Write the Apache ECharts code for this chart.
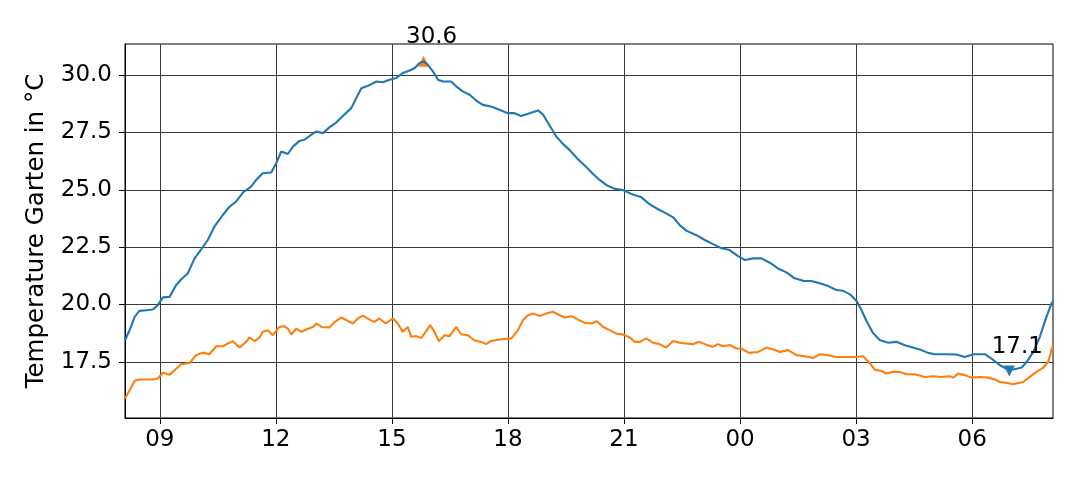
<!DOCTYPE html>
<html>
<head>
<meta charset="utf-8">
<script src="https://cdn.jsdelivr.net/npm/echarts@6/dist/echarts.min.js"></script>
<style>html,body{margin:0;padding:0;background:#fff}#c{width:1080px;height:480px}</style>
</head>
<body>
<div id="c"></div>
<script>
// time in hours since midnight of first day (24+ = next day)
const blueTimes = [8.10,8.22,8.35,8.47,8.65,8.82,8.95,9.08,9.25,9.42,9.55,9.72,9.90,10.07,10.24,10.41,10.63,10.80,10.97,11.15,11.36,11.49,11.66,11.88,12.01,12.14,12.31,12.44,12.61,12.74,12.91,13.04,13.22,13.39,13.56,13.73,13.95,14.08,14.21,14.38,14.60,14.77,14.94,15.11,15.28,15.46,15.59,15.71,15.82,15.93,16.06,16.19,16.32,16.53,16.66,16.83,17.01,17.18,17.35,17.56,17.78,18.00,18.17,18.34,18.56,18.78,18.91,19.08,19.25,19.42,19.59,19.81,20.03,20.20,20.37,20.54,20.76,20.97,21.19,21.45,21.66,21.88,22.09,22.27,22.44,22.61,22.87,23.09,23.30,23.52,23.73,23.95,24.12,24.34,24.55,24.77,24.98,25.20,25.41,25.63,25.84,26.06,26.28,26.49,26.66,26.84,27.01,27.14,27.27,27.44,27.61,27.83,28.04,28.26,28.47,28.69,28.86,29.03,29.34,29.59,29.81,30.03,30.33,30.50,30.72,30.96,31.15,31.28,31.41,31.58,31.75,31.92,32.05,32.09];
const blueValues = [18.44,18.88,19.46,19.72,19.75,19.78,19.97,20.31,20.33,20.84,21.09,21.35,22.01,22.40,22.81,23.39,23.90,24.26,24.48,24.88,25.14,25.43,25.72,25.75,26.16,26.67,26.56,26.88,27.13,27.18,27.39,27.54,27.47,27.73,27.93,28.22,28.56,29.00,29.43,29.53,29.72,29.69,29.80,29.87,30.09,30.20,30.31,30.52,30.60,30.45,30.16,29.80,29.72,29.72,29.51,29.29,29.14,28.89,28.70,28.63,28.49,28.34,28.34,28.22,28.34,28.46,28.27,27.79,27.32,27.00,26.74,26.33,25.98,25.69,25.43,25.21,25.04,24.99,24.82,24.67,24.37,24.15,23.97,23.80,23.46,23.22,23.02,22.81,22.63,22.45,22.37,22.11,21.94,22.01,22.01,21.82,21.57,21.40,21.14,21.03,21.02,20.92,20.80,20.63,20.60,20.44,20.16,19.75,19.28,18.75,18.45,18.33,18.37,18.22,18.12,18.01,17.89,17.83,17.83,17.82,17.71,17.83,17.83,17.64,17.35,17.13,17.20,17.25,17.50,17.93,18.59,19.46,20.04,20.14];

const orangeTimes = [8.10,8.22,8.35,8.47,8.65,8.82,8.95,9.08,9.25,9.38,9.55,9.77,9.94,10.11,10.28,10.46,10.63,10.76,10.89,11.06,11.23,11.32,11.45,11.58,11.66,11.79,11.92,12.09,12.22,12.31,12.40,12.53,12.66,12.78,12.96,13.05,13.18,13.39,13.52,13.69,13.82,13.99,14.12,14.25,14.42,14.55,14.68,14.84,15.03,15.15,15.28,15.41,15.50,15.63,15.76,15.84,15.99,16.10,16.21,16.36,16.49,16.66,16.79,16.96,17.13,17.35,17.44,17.56,17.78,18.09,18.26,18.39,18.52,18.65,18.82,18.99,19.16,19.34,19.47,19.64,19.81,19.98,20.16,20.30,20.46,20.63,20.80,20.97,21.15,21.28,21.41,21.58,21.75,21.92,22.09,22.27,22.44,22.61,22.78,22.94,23.09,23.30,23.43,23.56,23.73,23.91,24.03,24.23,24.47,24.68,24.90,25.03,25.24,25.46,25.67,25.89,26.06,26.28,26.49,26.71,26.97,27.18,27.35,27.48,27.66,27.78,27.96,28.13,28.30,28.52,28.78,28.99,29.21,29.42,29.51,29.64,29.81,29.98,30.20,30.41,30.59,30.72,30.89,31.06,31.32,31.49,31.66,31.84,31.97,32.05,32.09];
const orangeValues = [15.90,16.26,16.67,16.73,16.73,16.73,16.77,17.02,16.94,17.13,17.39,17.45,17.79,17.90,17.83,18.18,18.18,18.30,18.40,18.12,18.37,18.56,18.40,18.56,18.81,18.88,18.66,19.02,19.05,18.95,18.69,18.95,18.81,18.91,19.02,19.17,19.02,19.00,19.24,19.43,19.32,19.17,19.39,19.51,19.34,19.24,19.39,19.17,19.39,19.17,18.81,19.02,18.59,18.62,18.54,18.73,19.10,18.81,18.40,18.66,18.62,19.02,18.70,18.66,18.44,18.34,18.27,18.41,18.47,18.52,18.88,19.32,19.53,19.61,19.49,19.61,19.68,19.53,19.43,19.49,19.34,19.20,19.17,19.27,19.02,18.88,18.73,18.69,18.56,18.37,18.37,18.52,18.33,18.27,18.12,18.41,18.33,18.30,18.27,18.37,18.27,18.15,18.27,18.18,18.23,18.08,18.08,17.89,17.93,18.12,18.01,17.93,18.01,17.79,17.74,17.67,17.83,17.79,17.71,17.71,17.71,17.74,17.45,17.16,17.10,16.99,17.06,17.06,16.96,16.96,16.84,16.87,16.84,16.87,16.81,16.99,16.92,16.81,16.84,16.81,16.73,16.62,16.58,16.52,16.62,16.84,17.06,17.25,17.50,18.01,18.22];

const maxPoint = [15.82, 30.6];
const minPoint = [30.96, 17.1];
const xTickHours = [9, 12, 15, 18, 21, 24, 27, 30];
const yTickValues = [17.5, 20.0, 22.5, 25.0, 27.5, 30.0];
const yAxisTitle = 'Temperature Garten in °C';

const zip = (a, b) => a.map((t, i) => [t, b[i]]);
const FONT = 'DejaVu Sans';
const FS = 23;

const chart = echarts.init(document.getElementById('c'), null, {renderer: 'canvas'});
chart.setOption({
  animation: false,
  backgroundColor: '#fff',
  textStyle: {fontFamily: FONT},
  grid: {left: 125, right: 27, top: 44, bottom: 62, show: true, borderColor: '#000', borderWidth: 1, containLabel: false},
  xAxis: {
    type: 'value', min: 8.10, max: 32.09,
    axisLine: {show: true, lineStyle: {color: '#000', width: 1}},
    axisTick: {show: true, length: 6, lineStyle: {color: '#000', width: 1}, customValues: xTickHours},
    axisLabel: {customValues: xTickHours, color: '#000', fontSize: FS, fontFamily: FONT, margin: 11,
      formatter: v => String(Math.round(v) % 24).padStart(2, '0')},
    splitLine: {show: true, lineStyle: {color: '#3a3a3a', width: 1}}
  },
  yAxis: {
    type: 'value', min: 15.05, max: 31.355,
    name: yAxisTitle, nameLocation: 'middle', nameGap: 76,
    nameTextStyle: {color: '#000', fontSize: 24.5, fontFamily: FONT},
    axisLine: {show: true, lineStyle: {color: '#000', width: 1}},
    axisTick: {show: true, length: 6, lineStyle: {color: '#000', width: 1}, customValues: yTickValues},
    axisLabel: {customValues: yTickValues, color: '#000', fontSize: FS, fontFamily: FONT, margin: 13,
      formatter: v => v.toFixed(1)},
    splitLine: {show: true, lineStyle: {color: '#3a3a3a', width: 1}}
  },
  series: [
    {type: 'scatter', data: [maxPoint], symbol: 'triangle', symbolSize: 11, z: 1,
      itemStyle: {color: '#ff7f0e', opacity: 1},
      label: {show: true, position: 'inside', offset: [8, -24], formatter: p => p.value[1].toFixed(1),
        color: '#000', opacity: 1, textBorderWidth: 0, fontSize: FS, fontFamily: FONT}},
    {type: 'line', data: zip(orangeTimes, orangeValues), showSymbol: false, z: 2,
      lineStyle: {color: '#ff7f0e', width: 2.1}, itemStyle: {color: '#ff7f0e'}},
    {type: 'line', data: zip(blueTimes, blueValues), showSymbol: false, z: 3,
      lineStyle: {color: '#1f77b4', width: 2.1}, itemStyle: {color: '#1f77b4'}},
    {type: 'scatter', data: [minPoint], symbol: 'triangle', symbolRotate: 180, symbolSize: 11, z: 4,
      itemStyle: {color: '#1f77b4', opacity: 1},
      label: {show: true, position: 'inside', offset: [8, -24], formatter: p => p.value[1].toFixed(1),
        color: '#000', opacity: 1, textBorderWidth: 0, fontSize: FS, fontFamily: FONT}}
  ]
});
</script>
</body>
</html>
